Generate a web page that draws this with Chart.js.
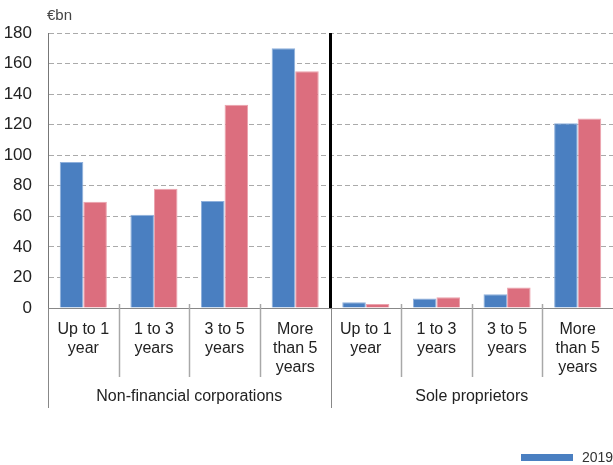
<!DOCTYPE html>
<html>
<head>
<meta charset="utf-8">
<script src="https://cdn.jsdelivr.net/npm/chart.js@4/dist/chart.umd.min.js"></script>
<style>
  html, body { margin: 0; padding: 0; background: #fff; }
  #wrap { width: 613px; height: 465px; position: relative; }
</style>
</head>
<body>
<div id="wrap"><canvas id="c"></canvas></div>
<script>
// Loan stock by residual maturity, €bn
const categories = [
  ['Up to 1', 'year'], ['1 to 3', 'years'], ['3 to 5', 'years'], ['More', 'than 5', 'years'],
  ['Up to 1', 'year'], ['1 to 3', 'years'], ['3 to 5', 'years'], ['More', 'than 5', 'years']
];
const groups = ['Non-financial corporations', 'Sole proprietors'];
const seriesNames = ['2019', '2020'];
const values2019 = [95.5, 61, 70, 170, 3.7, 6.3, 9, 121];
const values2020 = [69.5, 78, 133, 155, 2.6, 7, 13.5, 124];
const yTicks = [0, 20, 40, 60, 80, 100, 120, 140, 160, 180];

const FONT = '"Liberation Sans", Arial, Helvetica, sans-serif';
const BLUE = '#4a7fc1';
const PINK = '#dc6e7e';

// Dividers between categories, group separators, group names, unit and legend
const decorations = {
  id: 'decorations',
  afterDraw(chart) {
    const { ctx, chartArea } = chart;
    const x = chart.scales.x;
    const n = categories.length;
    const edge = i => (i === 0) ? chartArea.left :
      (i === n ? chartArea.right : (x.getPixelForValue(i - 1) + x.getPixelForValue(i)) / 2);
    const base = chartArea.bottom;
    ctx.save();
    ctx.strokeStyle = '#a8a8a8';
    ctx.lineWidth = 1.5;
    for (let i = 1; i < n; i++) {
      if (i === n / 2) continue;
      const px = Math.round(edge(i)) + 0.5;
      ctx.beginPath(); ctx.moveTo(px, base - 4); ctx.lineTo(px, base + 69); ctx.stroke();
    }
    // long dividers at group boundaries
    ctx.strokeStyle = '#888';
    ctx.lineWidth = 1;
    [0, n / 2].forEach(i => {
      const px = Math.round(edge(i)) + 0.5;
      ctx.beginPath(); ctx.moveTo(px, base); ctx.lineTo(px, base + 100); ctx.stroke();
    });
    // heavy separator between the two groups
    const sx = edge(n / 2);
    ctx.strokeStyle = '#000';
    ctx.lineWidth = 3;
    ctx.beginPath(); ctx.moveTo(sx, chartArea.top); ctx.lineTo(sx, base); ctx.stroke();

    // group names
    ctx.fillStyle = '#222';
    ctx.font = '16px ' + FONT;
    ctx.textAlign = 'center';
    ctx.textBaseline = 'middle';
    ctx.fillText(groups[0], (edge(0) + edge(n / 2)) / 2, 397);
    ctx.fillText(groups[1], (edge(n / 2) + edge(n)) / 2, 397);

    // unit
    ctx.fillStyle = '#444';
    ctx.textAlign = 'left';
    ctx.font = '15px ' + FONT;
    ctx.fillText('€bn', 47, 16);

    // legend
    const ds = chart.data.datasets[0];
    ctx.fillStyle = ds.backgroundColor;
    ctx.fillRect(521, 454, 52, 7);
    ctx.fillStyle = '#333';
    ctx.font = '14px ' + FONT;
    ctx.fillText(ds.label, 582, 458);
    ctx.restore();
  }
};

new Chart(document.getElementById('c'), {
  type: 'bar',
  data: {
    labels: categories,
    datasets: [
      { label: seriesNames[0], data: values2019, backgroundColor: BLUE, borderColor: '#8fb0dc', borderWidth: 1 },
      { label: seriesNames[1], data: values2020, backgroundColor: PINK, borderColor: '#eba2ad', borderWidth: 1 }
    ]
  },
  options: {
    responsive: true,
    maintainAspectRatio: false,
    animation: false,
    layout: { padding: { top: 33, right: 0, left: 0, bottom: 0 } },
    datasets: { bar: { categoryPercentage: 0.667, barPercentage: 1 } },
    plugins: {
      legend: { display: false },
      tooltip: { enabled: false }
    },
    scales: {
      x: {
        grid: { display: false, drawTicks: false },
        border: { display: true, color: '#888', width: 1 },
        ticks: {
          color: '#222',
          font: { family: FONT, size: 16, lineHeight: '19px' },
          padding: 12,
          maxRotation: 0,
          autoSkip: false
        },
        afterFit(scale) { scale.height = 157; }
      },
      y: {
        min: 0,
        max: 180,
        afterBuildTicks(scale) { scale.ticks = yTicks.map(v => ({ value: v })); },
        grid: {
          drawTicks: false,
          color: c => (c.tick && c.tick.value === 0) ? 'rgba(0,0,0,0)' : '#aaa',
          lineWidth: 1
        },
        border: { display: true, color: '#777', width: 1, dash: [5, 3], dashOffset: 0 },
        ticks: {
          color: '#222',
          font: { family: FONT, size: 17 },
          padding: 16
        },
        afterFit(scale) { scale.width = 48; }
      }
    }
  },
  plugins: [decorations]
});
</script>
</body>
</html>
